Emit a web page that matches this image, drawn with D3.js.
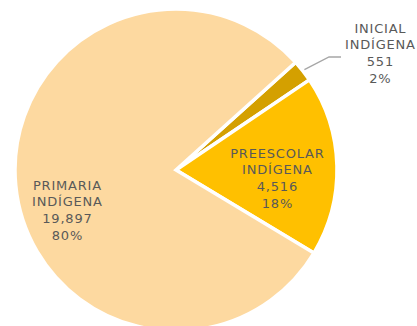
<!DOCTYPE html>
<html>
<head>
<meta charset="utf-8">
<script src="https://cdn.jsdelivr.net/npm/d3@7"></script>
<style>
  html, body { margin: 0; padding: 0; background: #fff; }
  svg { display: block; }
  text { font-family: "DejaVu Sans", sans-serif; fill: #595959; }
</style>
</head>
<body>
<script>
// Enrolment by level of indigenous education
const categories = ["INICIAL", "PREESCOLAR", "PRIMARIA"];
const values = [551, 4516, 19897];
const colors = ["#D4A000", "#FFC000", "#FDD9A0"];

const W = 417, H = 326;
const cx = 176, cy = 170, R = 161;

const svg = d3.select("body").append("svg")
  .attr("width", W).attr("height", H);

const total = d3.sum(values);
const data = categories.map((c, i) => ({ name: c, value: values[i], color: colors[i] }));

const startDeg = 48;
const pie = d3.pie()
  .value(d => d.value)
  .sort(null)
  .startAngle(startDeg * Math.PI / 180)
  .endAngle((startDeg + 360) * Math.PI / 180);

const arcs = pie(data);
const arc = d3.arc().innerRadius(0).outerRadius(R);

const g = svg.append("g").attr("transform", `translate(${cx},${cy})`);

g.selectAll("path")
  .data(arcs)
  .join("path")
  .attr("d", arc)
  .attr("fill", d => d.data.color)
  .attr("stroke", "#fff")
  .attr("stroke-width", 3.5)
  .attr("stroke-linejoin", "miter");

const fmt = d3.format(",");
const pct = v => Math.round(v / total * 100) + "%";

function labelLines(d) {
  return [d.data.name, "INDÍGENA", fmt(d.data.value), pct(d.data.value)];
}

// label anchors in chart coordinates
const labelPos = {
  INICIAL: [380, 28],
  PREESCOLAR: [277, 153],
  PRIMARIA: [67, 185]
};
const lineStep = 16.8;

arcs.forEach(d => {
  const [x, y] = labelPos[d.data.name];
  const t = svg.append("text")
    .attr("text-anchor", "middle")
    .attr("font-size", 13)
    .attr("letter-spacing", 0.8)
    .attr("x", x).attr("y", y + 4);
  labelLines(d).forEach((s, i) => {
    t.append("tspan").attr("x", x + 0.4).attr("y", y + 4.5 + i * lineStep).text(s);
  });
});

// leader line for the small slice
const small = arcs[0];
const mid = (small.startAngle + small.endAngle) / 2;
const p0 = [cx + Math.sin(mid) * (R + 2), cy - Math.cos(mid) * (R + 2)];
svg.append("polyline")
  .attr("points", [p0, [329, 57], [341, 57]].map(p => p.join(",")).join(" "))
  .attr("fill", "none")
  .attr("stroke", "#A6A6A6")
  .attr("stroke-width", 1.3);
</script>
</body>
</html>
